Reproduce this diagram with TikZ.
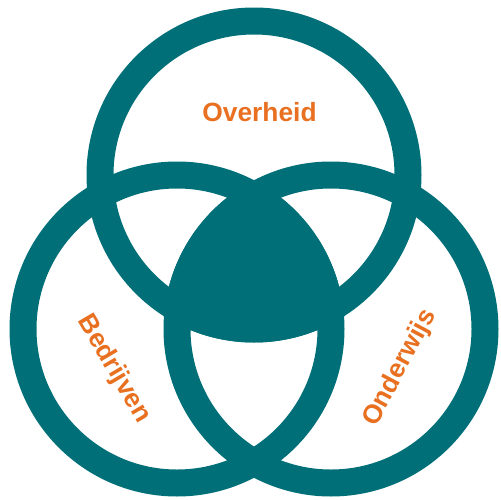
\documentclass[tikz,border=0pt]{standalone}
\usepackage{fontspec}
\setmainfont{Liberation Sans}
\usepackage{tikz}

\definecolor{teal}{RGB}{0,111,120}
\definecolor{oranje}{RGB}{232,112,32}

\begin{document}
\begin{tikzpicture}[x=0.02cm,y=-0.02cm,
  ring/.style={draw=teal, line width=0.54cm},
  label/.style={text=oranje, inner sep=0pt, font=\fontsize{15}{18}\selectfont\bfseries}]
\useasboundingbox (0,0) rectangle (500,500);
% middelpunten van de cirkels;
\coordinate (T) at (254,175);
\coordinate (L) at (177,329);
\coordinate (R) at (331,329);
%% gevulde doorsnede;
\begin{scope}
\clip (T) circle (167.5);
\clip (L) circle (167.5);
\fill[teal] (R) circle (167.5);
\end{scope}
%% ringen;
\draw[ring] (T) circle (154);
\draw[ring] (L) circle (154);
\draw[ring] (R) circle (154);
% teksten;
\node[label] (overheid) at (259.5,112.5) {Overheid};
\node[label, rotate=-59.5] (bedrijven) at (114,369) {Bedrijven};
\node[label, rotate=62] (onderwijs) at (400,368) {Onderwijs};
\end{tikzpicture}
\end{document}
